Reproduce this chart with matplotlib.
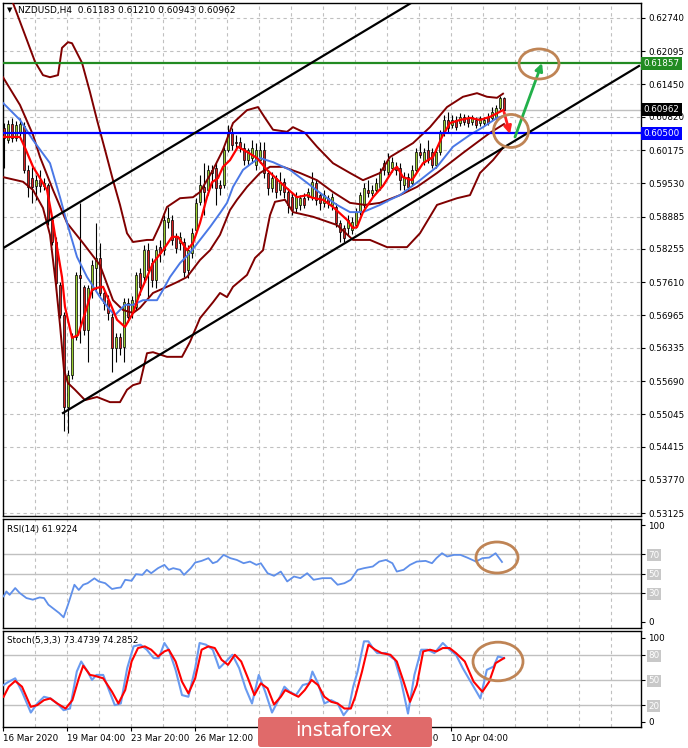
import numpy as np
import matplotlib
matplotlib.use("Agg")
import matplotlib.pyplot as plt
from matplotlib.patches import Ellipse, FancyBboxPatch

# ---- NZDUSD H4 candles (bar index 0 = left edge) ----
opens = [
    0.6060, 0.6037, 0.6068, 0.6041, 0.6051, 0.6064, 0.5979, 0.5963, 0.5948, 0.5959,
    0.5948, 0.5950, 0.5882, 0.5839, 0.5756, 0.5698, 0.5519, 0.5581, 0.5655, 0.5775,
    0.5752, 0.5669, 0.5746, 0.5789, 0.5808, 0.5740, 0.5727, 0.5694, 0.5634, 0.5655,
    0.5636, 0.5721, 0.5704, 0.5713, 0.5779, 0.5771, 0.5823, 0.5798, 0.5765, 0.5829,
    0.5823, 0.5878, 0.5882, 0.5849, 0.5837, 0.5839, 0.5785, 0.5818, 0.5862, 0.5917,
    0.5946, 0.5940, 0.5979, 0.5983, 0.5950, 0.5950, 0.6018, 0.6051, 0.6033, 0.6033,
    0.6022, 0.5998, 0.6002, 0.5989, 0.5998, 0.6018, 0.5973, 0.5944, 0.5963, 0.5940,
    0.5955, 0.5936, 0.5926, 0.5905, 0.5911, 0.5925, 0.5926, 0.5926, 0.5953, 0.5930,
    0.5915, 0.5925, 0.5911, 0.5907, 0.5876, 0.5866, 0.5866, 0.5862, 0.5872, 0.5897,
    0.5911, 0.5940, 0.5934, 0.5940, 0.5946, 0.5992, 0.5975, 0.5983, 0.5985, 0.5983,
    0.5950, 0.5965, 0.5953, 0.5979, 0.6014, 0.5994, 0.6018, 0.6014, 0.5989, 0.6014,
    0.6051, 0.6076, 0.6066, 0.6076, 0.6070, 0.6082, 0.6080, 0.6072, 0.6076, 0.6070,
    0.6070, 0.6082, 0.6080, 0.6082, 0.6099, 0.61183]
highs = [
    0.6070, 0.6076, 0.6080, 0.6074, 0.6080, 0.6072, 0.5989, 0.5985, 0.5969, 0.5979,
    0.5963, 0.5953, 0.5886, 0.5849, 0.5762, 0.5704, 0.5591, 0.5663, 0.5781, 0.5915,
    0.5756, 0.5756, 0.5804, 0.5876, 0.5837, 0.5750, 0.5736, 0.5702, 0.5663, 0.5663,
    0.5731, 0.5731, 0.5734, 0.5781, 0.5789, 0.5833, 0.5837, 0.5808, 0.5833, 0.5843,
    0.5891, 0.5907, 0.5891, 0.5856, 0.5858, 0.5847, 0.5833, 0.5866, 0.5925, 0.5969,
    0.5992, 0.5989, 0.5989, 0.5992, 0.5959, 0.6024, 0.6066, 0.6060, 0.6047, 0.6043,
    0.6031, 0.6022, 0.6037, 0.6031, 0.6033, 0.6033, 0.5979, 0.5975, 0.5969, 0.5975,
    0.5963, 0.5944, 0.5936, 0.5936, 0.5930, 0.5934, 0.5944, 0.5975, 0.5959, 0.5936,
    0.5940, 0.5930, 0.5934, 0.5915, 0.5882, 0.5872, 0.5891, 0.5888, 0.5905, 0.5936,
    0.5953, 0.5959, 0.5950, 0.5963, 0.5983, 0.5998, 0.6012, 0.6004, 0.5994, 0.5992,
    0.5975, 0.5973, 0.5989, 0.6022, 0.6031, 0.6022, 0.6037, 0.6022, 0.6022, 0.6057,
    0.6086, 0.6091, 0.6086, 0.6084, 0.6090, 0.6088, 0.6086, 0.6086, 0.6082, 0.6084,
    0.6082, 0.6090, 0.6101, 0.6105, 0.6123, 0.61210]
lows = [
    0.5983, 0.6031, 0.6033, 0.6035, 0.6045, 0.5973, 0.5926, 0.5915, 0.5921, 0.5936,
    0.5940, 0.5872, 0.5833, 0.5746, 0.5692, 0.5471, 0.5469, 0.5572, 0.5649, 0.5643,
    0.5659, 0.5605, 0.5731, 0.5746, 0.5734, 0.5707, 0.5688, 0.5587, 0.5605, 0.5620,
    0.5605, 0.5684, 0.5692, 0.5707, 0.5736, 0.5762, 0.5733, 0.5752, 0.5750, 0.5800,
    0.5814, 0.5866, 0.5833, 0.5818, 0.5823, 0.5771, 0.5769, 0.5808, 0.5856, 0.5911,
    0.5891, 0.5930, 0.5944, 0.5911, 0.5930, 0.5944, 0.6014, 0.6018, 0.6022, 0.6014,
    0.5989, 0.5989, 0.5992, 0.5979, 0.5992, 0.5963, 0.5930, 0.5936, 0.5925, 0.5930,
    0.5925, 0.5895, 0.5891, 0.5897, 0.5901, 0.5905, 0.5921, 0.5921, 0.5911, 0.5901,
    0.5907, 0.5905, 0.5901, 0.5868, 0.5839, 0.5839, 0.5853, 0.5855, 0.5866, 0.5891,
    0.5905, 0.5926, 0.5928, 0.5934, 0.5940, 0.5969, 0.5969, 0.5975, 0.5969, 0.5940,
    0.5940, 0.5940, 0.5948, 0.5975, 0.6002, 0.5989, 0.5992, 0.5983, 0.5983, 0.6008,
    0.6045, 0.6053, 0.6060, 0.6057, 0.6064, 0.6066, 0.6062, 0.6066, 0.6060, 0.6064,
    0.6064, 0.6066, 0.6076, 0.6078, 0.6095, 0.60943]
closes = [
    0.6041, 0.6068, 0.6041, 0.6066, 0.6068, 0.5979, 0.5946, 0.5946, 0.5959, 0.5948,
    0.5953, 0.5882, 0.5839, 0.5760, 0.5698, 0.5519, 0.5581, 0.5655, 0.5775, 0.5769,
    0.5669, 0.5750, 0.5794, 0.5808, 0.5740, 0.5721, 0.5702, 0.5634, 0.5655, 0.5634,
    0.5723, 0.5694, 0.5727, 0.5775, 0.5752, 0.5823, 0.5785, 0.5765, 0.5823, 0.5818,
    0.5882, 0.5886, 0.5843, 0.5827, 0.5849, 0.5781, 0.5823, 0.5856, 0.5915, 0.5950,
    0.5936, 0.5979, 0.5973, 0.5944, 0.5944, 0.6018, 0.6051, 0.6027, 0.6031, 0.6022,
    0.5998, 0.6018, 0.6022, 0.6018, 0.6018, 0.5973, 0.5944, 0.5963, 0.5936, 0.5955,
    0.5936, 0.5911, 0.5901, 0.5926, 0.5925, 0.5911, 0.5936, 0.5955, 0.5921, 0.5915,
    0.5930, 0.5915, 0.5926, 0.5876, 0.5858, 0.5847, 0.5882, 0.5878, 0.5897, 0.5930,
    0.5944, 0.5934, 0.5940, 0.5953, 0.5975, 0.5979, 0.5998, 0.5994, 0.5979, 0.5959,
    0.5965, 0.5946, 0.5979, 0.6014, 0.6008, 0.6014, 0.5998, 0.5989, 0.6014, 0.6051,
    0.6076, 0.6060, 0.6076, 0.6062, 0.6082, 0.6072, 0.6070, 0.6082, 0.6066, 0.6080,
    0.6076, 0.6070, 0.6091, 0.6099, 0.6119, 0.60962]

# ---- overlays (bar position, price) ----
fast_ma_x = [-0.25, 4, 5.25, 7.25, 9, 10.75, 12, 13.25, 14.5, 15.25, 17, 18.5, 20.75, 22, 23.25,
             24.75, 26.5, 28.25, 30.25, 32.25, 34, 35.75, 37.25, 39.75, 42, 43.5, 45.75, 47.25,
             49, 50.75, 52, 53.5, 54.75, 56.5, 58.5, 60.75, 63.25, 65.75, 69.75, 73.25, 75.75,
             77, 79.75, 82.25, 85.75, 87.25, 88.25, 89.75, 92.25, 94.75, 97.25, 98.25, 99.75,
             102, 104.75, 107.25, 109.5, 111.5, 114, 116.5, 119, 121.5, 123.5, 124.75]
fast_ma = [0.6043, 0.6043, 0.6022, 0.5985, 0.5963, 0.5940, 0.5888, 0.5829, 0.5771, 0.5713, 0.5653,
           0.5658, 0.5713, 0.5746, 0.5750, 0.5752, 0.5721, 0.5688, 0.5674, 0.5701, 0.5740, 0.5771,
           0.5798, 0.5823, 0.5849, 0.5849, 0.5823, 0.5837, 0.5876, 0.5926, 0.5955, 0.5963, 0.5985,
           0.5998, 0.6024, 0.6014, 0.6002, 0.5979, 0.5950, 0.5926, 0.5930, 0.5925, 0.5921, 0.5907,
           0.5882, 0.5866, 0.5868, 0.5897, 0.5926, 0.5948, 0.5979, 0.5985, 0.5965, 0.5959, 0.5992,
           0.6004, 0.6043, 0.6070, 0.6076, 0.6080, 0.6076, 0.6082, 0.6090, 0.6095]

slow_ma_x = [-0.25, 4, 7.25, 11.5, 14, 15.75, 18.25, 20.75, 24, 26.5, 27.75, 30.25, 32.25, 34.75,
             38.25, 39.75, 41.5, 44, 46.5, 49, 51.5, 54, 55.75, 57.25, 59.75, 62.25, 64, 67.25,
             71.5, 75.75, 79.75, 83.25, 86.5, 89.75, 94, 96.5, 99, 104, 108.25, 112.25, 116.5,
             119.75, 123.25, 125]
slow_ma = [0.6109, 0.6076, 0.6037, 0.5992, 0.5926, 0.5876, 0.5810, 0.5771, 0.5732, 0.5707, 0.5697,
           0.5717, 0.5717, 0.5726, 0.5726, 0.5746, 0.5771, 0.5798, 0.5818, 0.5843, 0.5868, 0.5895,
           0.5915, 0.5946, 0.5979, 0.5994, 0.6002, 0.5994, 0.5979, 0.5954, 0.5930, 0.5911, 0.5897,
           0.5897, 0.5911, 0.5921, 0.5930, 0.5959, 0.5985, 0.6024, 0.6047, 0.6062, 0.6080, 0.6084]

bb_up_x = [1.5, 2.25, 5.25, 7.75, 9.75, 11.5, 13.5, 14.5, 16, 17, 19.5, 21.5, 23.25, 25.25, 27.25,
           29, 30.75, 32.25, 35.75, 37.25, 39, 40.75, 44, 47.25, 49, 52.25, 54.75, 57.25, 60.75,
           63.5, 65.25, 67.25, 70.75, 72.25, 75.25, 78.25, 82.25, 86.5, 89.75, 94, 96.5, 102.25,
           106.5, 110.75, 114.75, 118.25, 120.75, 123.25, 124.75]
bb_up = [0.6319, 0.6303, 0.6241, 0.6189, 0.6163, 0.6159, 0.6163, 0.6216, 0.6227, 0.6225, 0.6187,
         0.6130, 0.6076, 0.6018, 0.5959, 0.5911, 0.5856, 0.5839, 0.5843, 0.5843, 0.5872, 0.5907,
         0.5924, 0.5926, 0.5936, 0.5979, 0.6018, 0.6070, 0.6095, 0.6101, 0.6080, 0.6057, 0.6053,
         0.6062, 0.6051, 0.6024, 0.5992, 0.5973, 0.5959, 0.5973, 0.6004, 0.6031, 0.6062, 0.6101,
         0.6121, 0.6128, 0.6121, 0.6119, 0.6127]

bb_mid_x = [-0.25, 4, 7.25, 9, 12.25, 15.75, 19.75, 24, 27.25, 29.75, 32.25, 34, 37.25, 40.75,
            43.25, 45.75, 49, 51.5, 54, 56.5, 58.25, 60.75, 64, 66.5, 69.75, 74, 78.25, 82.25,
            86.5, 90.25, 94, 99, 103.25, 108.25, 114.75, 121.5, 125]
bb_mid = [0.6159, 0.6105, 0.6047, 0.6004, 0.5940, 0.5876, 0.5837, 0.5794, 0.5726, 0.5707, 0.5701,
          0.5711, 0.5740, 0.5752, 0.5761, 0.5771, 0.5804, 0.5823, 0.5853, 0.5901, 0.5921, 0.5946,
          0.5973, 0.5985, 0.5985, 0.5973, 0.5959, 0.5936, 0.5915, 0.5911, 0.5915, 0.5930, 0.5946,
          0.5973, 0.6012, 0.6051, 0.6068]

bb_lo_x = [-0.25, 4.75, 7.25, 9.75, 11.5, 13, 14, 15, 16, 17.75, 20.25, 23.25, 26.5, 29, 30.75,
           32.25, 34, 35.75, 37.25, 40.75, 44.5, 46.5, 49, 52.25, 54, 55.75, 57.25, 60.75, 62.75,
           64.75, 66.5, 67.75, 70.25, 72.25, 77.25, 83.25, 87.25, 91.5, 95.75, 100.75, 104,
           108.25, 113.25, 116.5, 119, 122.25, 124.75]
bb_lo = [0.5965, 0.5956, 0.5940, 0.5905, 0.5853, 0.5755, 0.5678, 0.5590, 0.5565, 0.5552, 0.5532,
         0.5538, 0.5528, 0.5528, 0.5552, 0.5561, 0.5565, 0.5623, 0.5625, 0.5616, 0.5616, 0.5645,
         0.5691, 0.5722, 0.5740, 0.5732, 0.5752, 0.5775, 0.5808, 0.5823, 0.5891, 0.5917, 0.5921,
         0.5897, 0.5888, 0.5872, 0.5843, 0.5843, 0.5829, 0.5829, 0.5856, 0.5911, 0.5924, 0.5930,
         0.5973, 0.5998, 0.6022]

# channel lines and levels drawn by the analyst
channel_top = [(-0.25, 0.5827), (101.75, 0.6303)]
channel_bottom = [(14.75, 0.55069), (158.75, 0.61808)]
resistance = 0.61857
support = 0.60500
last_price = 0.60962

# ---- RSI(14) ----
rsi_x = [-0.1, 0.6, 1.4, 2.8, 3.9, 5.6, 7.2, 8.9, 10, 11.1, 12.7, 13.8, 14.9, 16, 17.6, 18.7, 19.8,
         20.9, 22.6, 23.7, 25.3, 27, 28.1, 29.2, 30.3, 31.9, 33, 34.6, 35.7, 36.8, 38.5, 40.1, 41.2,
         42.3, 44, 45, 46.7, 47.8, 49.4, 51.1, 52.2, 53.3, 54.9, 56.6, 58.2, 59.9, 61.5, 63.1, 64.2,
         65.9, 67.5, 69.2, 70.8, 72.5, 74.1, 75.8, 77.4, 79.6, 81.8, 83.4, 85.1, 86.7, 88.4, 90,
         92.2, 93.8, 95.5, 97.1, 98.2, 99.9, 101.5, 103.2, 105.4, 107, 108.1, 109.5, 110.8, 112.5,
         114.1, 115.8, 118, 119.6, 121.3, 122.9, 124.5]
rsi_val = [26.4, 31.5, 28, 35, 30, 24.7, 23, 25.3, 24.7, 17.8, 12.7, 9.2, 4.8, 17.8, 38.4, 33, 38.4,
           40, 45, 41.8, 40, 34, 35, 35.6, 43.5, 42.5, 49.3, 48.6, 53.8, 50.3, 55.5, 58.9, 53.8,
           55.5, 53.8, 48.6, 55.5, 61.3, 63, 65.8, 60.6, 62.3, 69.2, 65.8, 64, 60.6, 62.3, 58.9,
           60.6, 50.3, 47.6, 52, 41.8, 46.9, 45.2, 50.3, 43.5, 45.2, 45.2, 38.4, 40, 43.5, 53.8,
           55.5, 57.2, 62.3, 64, 60.6, 52, 53.8, 58.9, 62.3, 63, 60.6, 65.8, 70.9, 67.5, 69.2,
           69.2, 66.4, 62.3, 65.8, 66.4, 70.9, 61.9]

# ---- Stochastic(5,3,3) ----
k_x = [-0.1, 1.2, 2.8, 4.5, 6.7, 8.3, 10, 11.6, 13.3, 14.9, 16.5, 18.2, 19.3, 20.9, 22, 23.1, 24.8,
       26.4, 27.7, 29.2, 30.8, 32.4, 34.1, 35.7, 37.4, 38.7, 40.1, 41.2, 42.9, 44.5, 46.1, 47.8,
       48.9, 50.5, 52.2, 53.8, 55.5, 57.1, 58.8, 60.4, 62, 63.7, 65.3, 67, 68.6, 70.1, 71.4, 73,
       74.7, 76.3, 77.1, 78.5, 80.1, 81.8, 83.4, 84.9, 86.2, 87.3, 88.4, 90, 91.1, 92.2, 93.3,
       95.5, 97.7, 99.3, 101, 102.6, 104.3, 105.9, 107.6, 109.7, 111.4, 113, 114.7, 116.9, 119.1,
       120.7, 122.4, 123.5, 125]
k_val = [44, 48, 52, 36, 11.2, 22, 30, 28, 22, 14, 16, 60, 72, 60, 50, 56, 56, 36, 20, 22, 64, 90,
         92, 86, 76, 76, 94, 86, 62, 32, 30, 64, 94, 92, 86, 64, 72, 80, 64, 40, 22, 56, 36, 11.2,
         26, 42, 36, 32, 44, 46, 60, 46, 22, 26, 22, 8, 16, 42, 60, 96, 96, 88, 82, 82, 74, 48, 10,
         56, 86, 86, 82, 94, 86, 80, 64, 46, 28, 62, 66, 78, 76]
d_x = [-0.1, 1.2, 2.8, 4.5, 6.7, 8.3, 10, 11.6, 13.3, 15.4, 17.1, 18.7, 19.8, 21.5, 22.6, 24.8, 27,
       28.6, 30.3, 31.9, 33.5, 35.2, 36.8, 38.5, 40.1, 41.2, 42.9, 44.5, 46.1, 47.8, 49.4, 51.1,
       52.7, 54.4, 56, 57.7, 59.3, 61, 62.6, 64.2, 65.9, 67.5, 69.2, 70.3, 71.9, 73.6, 75.2, 76.9,
       78.5, 80.1, 81.8, 83.4, 85.1, 86.7, 87.8, 89.5, 91.1, 92.8, 94.4, 96.6, 98.2, 99.9, 101.5,
       103.2, 104.8, 106.5, 108.1, 109.7, 111.4, 113, 115.2, 117.4, 119.6, 121.3, 122.9, 125]
d_val = [30, 42, 48.8, 42, 18, 20, 26, 28, 22, 16, 26, 52, 67, 56, 55, 52, 36, 22, 38, 72, 88, 90,
         86, 78, 84, 86, 72, 48, 34, 52, 86, 90, 88, 74, 68, 80, 72, 52, 32, 46, 40, 20.8, 30, 38,
         34, 30, 38, 50, 44, 30, 24, 22, 16, 16, 30, 60, 92, 86, 82, 80, 72, 48, 24, 44, 84, 86,
         84, 88, 88, 82, 72, 48, 36, 48, 70, 76]

price_ticks = [0.62740, 0.62095, 0.61450, 0.60820, 0.60175, 0.59530, 0.58885, 0.58255,
               0.57610, 0.56965, 0.56335, 0.55690, 0.55045, 0.54415, 0.53770, 0.53125]
date_pos = [-0.25, 15.75, 31.75, 47.75, 63.75, 79.75, 95.75, 111.75]
date_labels = ["16 Mar 2020", "19 Mar 04:00", "23 Mar 20:00", "26 Mar 12:00",
               "31 Mar 04:00", "2 Apr 20:00", "7 Apr 12:00", "10 Apr 04:00"]

FS = 6.3
GRID = "#C0C0C0"
BROWN = "#BF8455"
W, H = 688, 748

fig = plt.figure(figsize=(W / 100, H / 100), dpi=100)
fig.patch.set_facecolor("white")


def panel(top, bottom):
    a = fig.add_axes([3 / W, 1 - bottom / H, 638 / W, (bottom - top) / H])
    a.set_xlim(-0.25, 159.25)
    for s in a.spines.values():
        s.set_color("black")
        s.set_linewidth(1)
    a.yaxis.tick_right()
    a.tick_params(axis="y", length=3, pad=2, labelsize=FS, width=0.8)
    a.tick_params(axis="x", length=0, labelbottom=False)
    for g in np.arange(7.75, 159, 8):
        a.axvline(g, color=GRID, lw=0.8, ls=(0, (3, 3)), zorder=0)
    return a


ax = panel(3, 516)
rsi_ax = panel(519, 628)
st_ax = panel(631, 727)

# ---- main price panel ----
ax.set_ylim(0.53069, 0.63031)
ax.set_yticks(price_ticks)
ax.set_yticklabels([f"{t:.5f}" for t in price_ticks])
for t in price_ticks:
    ax.axhline(t, color=GRID, lw=0.8, ls=(0, (3, 3)), zorder=0)
ax.axhline(last_price, color=GRID, lw=1, zorder=1)

o = np.array(opens)
c = np.array(closes)
idx = np.arange(len(c))
bull = c >= o
ax.vlines(idx, lows, highs, color="black", lw=0.8, zorder=3)
ax.bar(idx, np.maximum(np.abs(c - o), 0.00006), bottom=np.minimum(o, c), width=0.7,
       color=np.where(bull, "#9ACD32", "#D42020"), edgecolor="black", lw=0.5, zorder=4)

ax.plot(bb_up_x, bb_up, color="#800000", lw=1.4, zorder=5)
ax.plot(bb_mid_x, bb_mid, color="#800000", lw=1.4, zorder=5)
ax.plot(bb_lo_x, bb_lo, color="#800000", lw=1.4, zorder=5)
ax.plot(slow_ma_x, slow_ma, color="#4A78E6", lw=1.4, zorder=5)
ax.plot(fast_ma_x, fast_ma, color="#FF0000", lw=1.6, zorder=5)

ax.axhline(resistance, color="#228B22", lw=1.6, zorder=6)
ax.axhline(support, color="#0000FF", lw=1.6, zorder=6)
for line in (channel_top, channel_bottom):
    ax.plot([line[0][0], line[1][0]], [line[0][1], line[1][1]], color="black", lw=1.6, zorder=6)

ax.annotate("", xy=(126.5, 0.60487), xytext=(125.0, 0.60915),
            arrowprops=dict(arrowstyle="-|>", color="#FF2020", lw=2, mutation_scale=11,
                            shrinkA=0, shrinkB=0), zorder=7)
ax.annotate("", xy=(134.5, 0.61866), xytext=(127.75, 0.60429),
            arrowprops=dict(arrowstyle="-|>", color="#22B04A", lw=2, mutation_scale=11,
                            shrinkA=0, shrinkB=0), zorder=7)
ax.add_patch(Ellipse((126.75, 0.60546), 8.75, 0.00641, fill=False, ec=BROWN, lw=2, zorder=8))
ax.add_patch(Ellipse((133.75, 0.61847), 10.0, 0.00583, fill=False, ec=BROWN, lw=2, zorder=8))

ytr = ax.get_yaxis_transform()
for val, bg in ((resistance, "#228B22"), (last_price, "black"), (support, "#0000FF")):
    ax.text(1.004, val, f"{val:.5f}", transform=ytr, ha="left", va="center", color="white",
            fontsize=FS, clip_on=False, zorder=10,
            bbox=dict(boxstyle="square,pad=0.25", fc=bg, ec="none"))

fig.text(7 / W, 1 - 10 / H, "\u25bc", fontsize=5, va="center", ha="left")
fig.text(18 / W, 1 - 10 / H, "NZDUSD,H4  0.61183 0.61210 0.60943 0.60962",
         fontsize=6.5, va="center", ha="left")

# ---- RSI panel ----
rsi_ax.set_ylim(-6.2, 106.2)
for lvl in (30, 50, 70):
    rsi_ax.axhline(lvl, color=GRID, lw=1, zorder=1)
rsi_ax.plot(rsi_x, rsi_val, color="#5F8FEA", lw=1.3, zorder=3)
rsi_ax.add_patch(Ellipse((123.25, 66.5), 10.5, 32, fill=False, ec=BROWN, lw=2, zorder=5))
rsi_ax.set_yticks([0, 30, 50, 70, 100])
rsi_ax.set_yticklabels(["0", "30", "50", "70", "100"])
rsi_ax.text(0.006, 0.9, "RSI(14) 61.9224", transform=rsi_ax.transAxes, fontsize=FS,
            va="center", ha="left")

# ---- Stochastic panel ----
st_ax.set_ylim(-6, 108.3)
for lvl in (20, 50, 80):
    st_ax.axhline(lvl, color=GRID, lw=1, zorder=1)
st_ax.plot(k_x, k_val, color="#6A9BF0", lw=1.5, zorder=3)
st_ax.plot(d_x, d_val, color="#FF0000", lw=1.5, zorder=4)
st_ax.add_patch(Ellipse((123.5, 72), 12.5, 46, fill=False, ec=BROWN, lw=2, zorder=5))
st_ax.set_yticks([0, 20, 50, 80, 100])
st_ax.set_yticklabels(["0", "20", "50", "80", "100"])
st_ax.text(0.006, 0.9, "Stoch(5,3,3) 73.4739 74.2852", transform=st_ax.transAxes, fontsize=FS,
           va="center", ha="left")
st_ax.set_xticks(date_pos)
st_ax.set_xticklabels(date_labels)
st_ax.tick_params(axis="x", length=3, pad=2, labelsize=FS, labelbottom=True)
for lbl in st_ax.get_xticklabels():
    lbl.set_ha("left")

# level labels drawn as grey boxes, like the terminal
for a, levels in ((rsi_ax, ("30", "50", "70")), (st_ax, ("20", "50", "80"))):
    for lbl in a.get_yticklabels():
        if lbl.get_text() in levels:
            lbl.set_color("white")
            lbl.set_bbox(dict(boxstyle="square,pad=0.15", fc="#C8C8C8", ec="none"))

# watermark
fig.patches.append(FancyBboxPatch((258 / W, 1 / H), 174 / W, 30 / H,
                                  boxstyle="round,pad=0,rounding_size=0.004",
                                  transform=fig.transFigure, fc="#E06A6A", ec="none", zorder=20))
fig.text(344 / W, 1 - 731 / H, "instaforex", color="white", fontsize=14, ha="center",
         va="center", zorder=21)

fig.savefig("out.png", dpi=100)
